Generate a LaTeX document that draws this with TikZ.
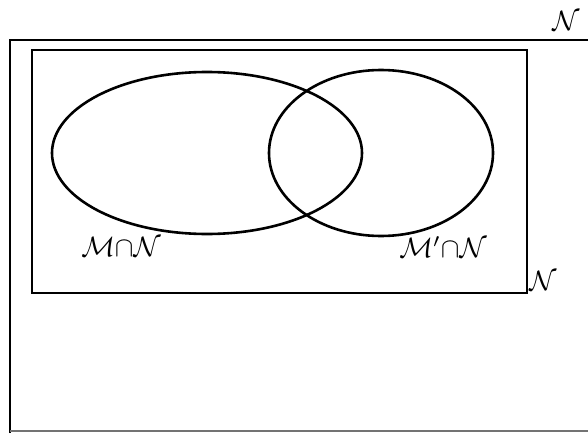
\documentclass[tikz,border=0pt]{standalone}
\usepackage{amssymb}
\usepackage{graphicx}
\begin{document}
\begin{tikzpicture}[x=1pt,y=-1pt,
  frame/.style={draw=black,line width=2.6pt},
  lbl/.style={inner sep=0pt}]
\useasboundingbox (0,0) rectangle (588,433);
\clip (0,0) rectangle (588,433);
% outer set
\draw[frame] (10,433) -- (10,40) -- (592,40);
\draw[draw=black!55,line width=1.6pt] (10,431) -- (592,431);
% inner set
\draw[frame] (32,50) rectangle (527,293);
% ellipses
\draw[frame] (207,153) ellipse [x radius=155, y radius=81];
\draw[frame] (381,153) ellipse [x radius=112, y radius=83];
% labels
\node[lbl] (a) at (121,247) {\scalebox{2.8}{$\mathcal{M}{\cap}\mathcal{N}$}};
\node[lbl] (b) at (443,247) {\scalebox{2.8}{$\mathcal{M}'{\cap}\mathcal{N}$}};
\node[lbl] (c) at (543,281) {\scalebox{2.8}{$\mathcal{N}$}};
\node[lbl] (d) at (566,21) {\scalebox{2.8}{$\mathcal{N}$}};
\end{tikzpicture}
\end{document}
